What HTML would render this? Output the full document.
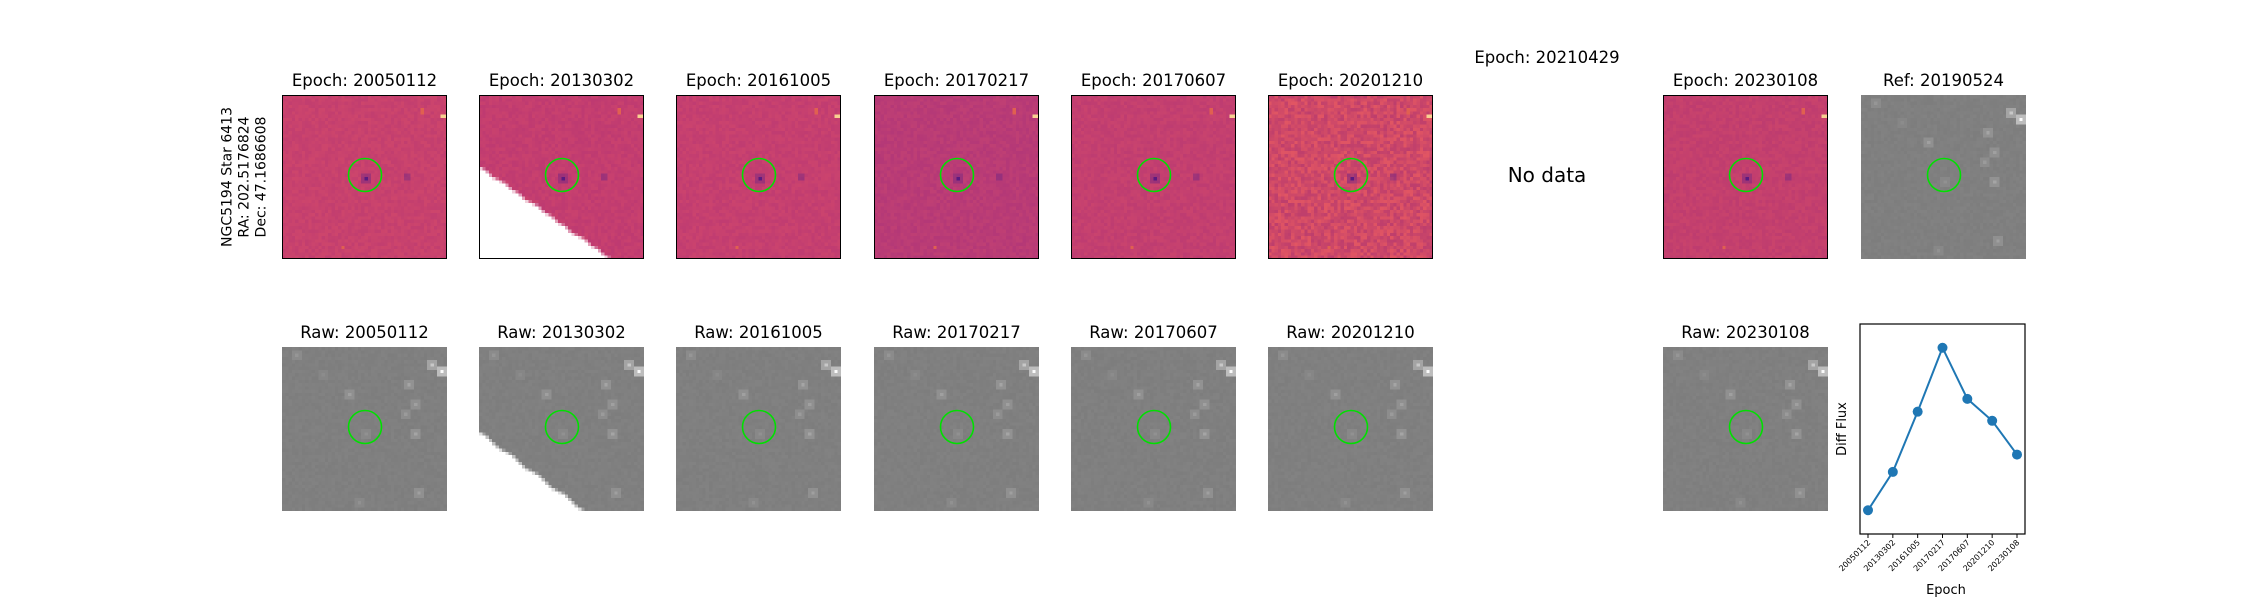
<!DOCTYPE html>
<html><head><meta charset="utf-8">
<style>
body{margin:0;background:#fff;width:2250px;height:600px;overflow:hidden;position:relative;font-family:"DejaVu Sans","Liberation Sans",sans-serif;}
.t{position:absolute;font-size:16.5px;color:#000;white-space:nowrap;transform:translateX(-50%);}
canvas{position:absolute;image-rendering:pixelated;}
.frame{position:absolute;border:1.4px solid #000;box-sizing:border-box;pointer-events:none}
svg{position:absolute;left:0;top:0}
</style></head><body>
<div style="position:absolute;left:245px;top:177px;transform:translate(-50%,-50%) rotate(-90deg);font-size:14px;line-height:17px;text-align:center;white-space:nowrap">NGC5194 Star 6413<br>RA: 202.5176824<br>Dec: 47.1686608</div>
<div class="t" style="left:1547px;top:48px">Epoch: 20210429</div>
<div style="position:absolute;left:1547px;top:163px;transform:translateX(-50%);font-size:20px">No data</div>
<div id="root"></div>
<svg id="plot" width="2250" height="600"></svg>
<script>
const epochs=["20050112","20130302","20161005","20170217","20170607","20201210","20230108"];
const diffFlux=[0.26,0.68,1.34,2.04,1.48,1.24,0.87];
const yDomain=[0,2.3];

const root=document.getElementById('root');
let seed=12345;function rnd(){seed=(seed*1103515245+12345)&0x7fffffff;return seed/0x7fffffff;}
const W=165,H=164,N=50;
function panel(x,y,title,kind,opts){
  const t=document.createElement('div');t.className='t';t.textContent=title;
  t.style.left=(x+W/2)+'px';t.style.top=(y-24)+'px';
  
  
  root.appendChild(t);
  const c=document.createElement('canvas');c.width=N;c.height=N;
  c.style.left=x+'px';c.style.top=y+'px';c.style.width=W+'px';c.style.height=H+'px';
  
  
  root.appendChild(c);
  const g=c.getContext('2d');
  for(let i=0;i<N;i++)for(let j=0;j<N;j++){
    let col;
    if(kind==='raw'){let v=128+(rnd()-0.5)*5;col=`rgb(${v|0},${v|0},${v|0})`;}
    else{const [r,gg,b]=opts.base;const n=(rnd()-0.5)*opts.noise;col=`rgb(${r+n*1.2|0},${gg+n*0.8|0},${b-n*0.3|0})`;}
    g.fillStyle=col;g.fillRect(i,j,1,1);
  }
  if(kind==='raw'){
    const stars=[[48,7,250],[45,5,200],[38,11,165],[20,14,160],[40,17,160],[37,20,155],[40,26,165],[25,26,145],[41,44,160],[4,2,150],[23,47,145],[12,8,140]];
    stars.forEach(s=>{const h=(s[2]+128)/2|0;g.fillStyle=`rgb(${h},${h},${h})`;g.fillRect(s[0]-1,s[1]-1,3,3);g.fillStyle=`rgb(${s[2]},${s[2]},${s[2]})`;g.fillRect(s[0],s[1],1,1);});
  }else{
    g.fillStyle='rgba(120,40,130,0.5)';g.fillRect(24,24,3,3);
    g.fillStyle=opts.center||'#5a1a80';g.fillRect(25,25,1,1);
    g.fillStyle='rgba(120,40,130,0.5)';g.fillRect(37,24,2,2);
    g.fillStyle=opts.corner||'#f8d090';g.fillRect(48,6,2,1);
    g.fillStyle='#e06050';g.fillRect(18,46,1,1);g.fillRect(42,4,1,2);
  }
  if(opts&&opts.wedge){
    g.fillStyle='#fff';g.beginPath();
    const [a,b]=opts.wedge;g.moveTo(0,N*a);
    const steps=20;for(let k=0;k<=steps;k++){const xx=Math.round(N*b*k/steps);const yy=Math.round(N*a+(N-N*a)*k/steps);g.lineTo(xx,yy);}
    g.lineTo(0,N);g.closePath();g.fill();
  }
  if(kind!=='raw'){const f=document.createElement('div');f.className='frame';f.style.left=x+'px';f.style.top=y+'px';f.style.width=W+'px';f.style.height=H+'px';
    
    
    root.appendChild(f);}
  const ns='http://www.w3.org/2000/svg';
  const s=document.createElementNS(ns,'svg');s.setAttribute('width',W);s.setAttribute('height',H);s.style.left=x+'px';s.style.top=y+'px';
  const ci=document.createElementNS(ns,'circle');ci.setAttribute('cx',W/2+0.5);ci.setAttribute('cy',H/2-2);ci.setAttribute('r',16.5);
  ci.setAttribute('fill','none');ci.setAttribute('stroke','#00e000');ci.setAttribute('stroke-width','1.6');
  
  
  s.appendChild(ci);root.appendChild(s);
}
const xs=[282,479,676,874,1071,1268,1466,1663,1861];
const bases=[[200,66,110],[196,62,112],[198,64,112],[186,60,118],[196,64,112],[208,74,104],null,[196,64,110]];
for(let k=0;k<8;k++){
  if(k===6)continue;
  const ep=k<6?epochs[k]:epochs[6];
  panel(xs[k],95,'Epoch: '+ep,'diff',{base:bases[k],noise:k===5?30:10,wedge:k===1?[0.436,0.79]:null});
  panel(xs[k],347,'Raw: '+ep,'raw',{wedge:k===1?[0.52,0.64]:null});
}
panel(xs[8],95,'Ref: 20190524','raw',{});

// line chart
const ns='http://www.w3.org/2000/svg';const sv=document.getElementById('plot');
const L=1860,R=2025,T=324,B=534;
const xScale=i=>1868+i*(2017-1868)/(epochs.length-1);
const yScale=v=>B-(v-yDomain[0])/(yDomain[1]-yDomain[0])*(B-T);
function el(tag,attrs,name,text){const e=document.createElementNS(ns,tag);for(const k in attrs)e.setAttribute(k,attrs[k]);
  
  
  if(text)e.textContent=text;sv.appendChild(e);return e;}
el('rect',{x:L,y:T,width:R-L,height:B-T,fill:'none',stroke:'#000','stroke-width':1.2},'plot-frame');
el('polyline',{points:diffFlux.map((v,i)=>xScale(i)+','+yScale(v)).join(' '),fill:'none',stroke:'#1f77b4','stroke-width':2},'flux-line');
diffFlux.forEach((v,i)=>{el('circle',{cx:xScale(i),cy:yScale(v),r:5,fill:'#1f77b4'},'flux-point');});
epochs.forEach((e,i)=>{const x=xScale(i);
  el('line',{x1:x,y1:B,x2:x,y2:B+4,stroke:'#000','stroke-width':1},'x-tick');
  el('text',{x:x+3,y:B+9,'font-size':8,'text-anchor':'end',transform:`rotate(-45 ${x+3} ${B+9})`,'font-family':'DejaVu Sans, sans-serif'},'x-tick-label',e);
});
el('text',{x:1946,y:594,'font-size':13,'text-anchor':'middle','font-family':'DejaVu Sans, sans-serif'},'x-axis-title','Epoch');
el('text',{x:1846,y:429,'font-size':13,'text-anchor':'middle',transform:'rotate(-90 1846 429)','font-family':'DejaVu Sans, sans-serif'},'y-axis-title','Diff Flux');
</script>
</body></html>
